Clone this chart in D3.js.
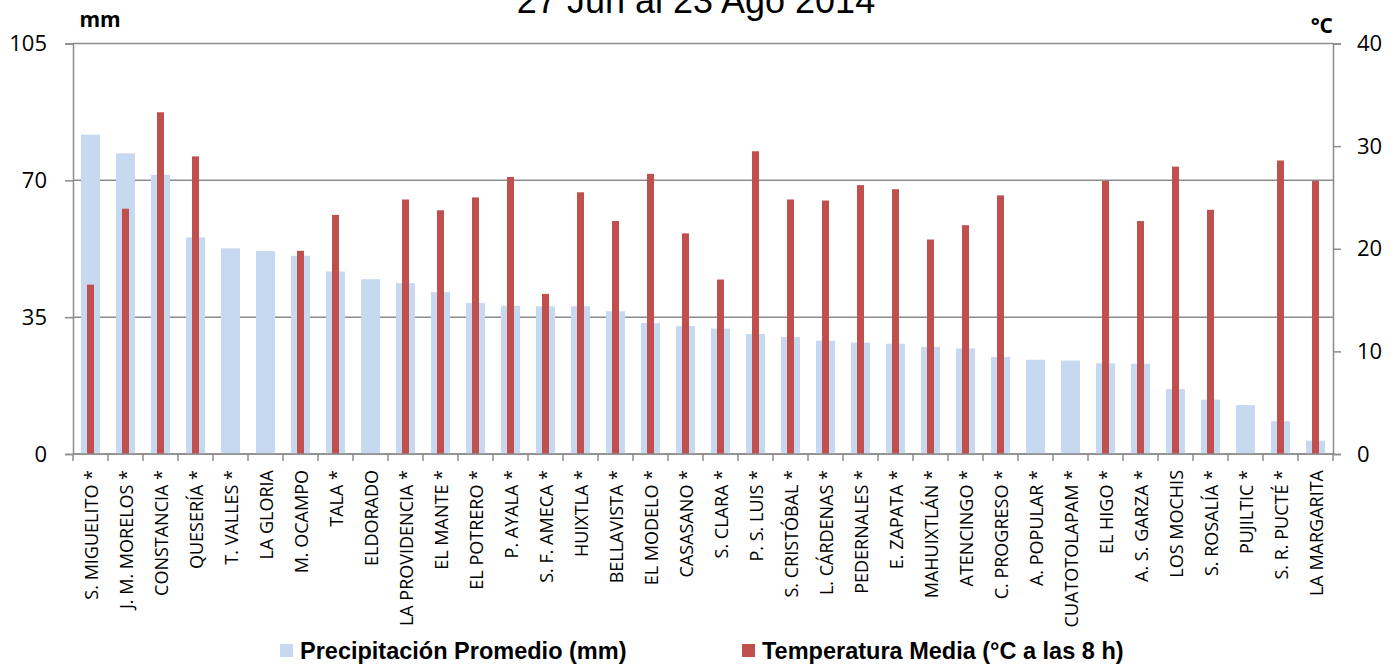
<!DOCTYPE html>
<html>
<head>
<meta charset="utf-8">
<script src="https://cdn.jsdelivr.net/npm/d3@7.9.0/dist/d3.min.js"></script>
<style>
    body { margin: 0; background: #fff; }
    svg { display: block; }
</style>
</head>
<body>
<svg id="chart" width="1398" height="669"></svg>
<script>
// stations
const stations = [
    "S. MIGUELITO *", "J. M. MORELOS *", "CONSTANCIA *", "QUESERÍA *", "T. VALLES *",
    "LA GLORIA", "M. OCAMPO", "TALA *", "ELDORADO", "LA PROVIDENCIA *", "EL MANTE *",
    "EL POTRERO *", "P. AYALA *", "S. F. AMECA *", "HUIXTLA *", "BELLAVISTA *",
    "EL MODELO *", "CASASANO *", "S. CLARA *", "P. S. LUIS *", "S. CRISTÓBAL *",
    "L. CÁRDENAS *", "PEDERNALES *", "E. ZAPATA *", "MAHUIXTLÁN *", "ATENCINGO *",
    "C. PROGRESO *", "A. POPULAR *", "CUATOTOLAPAM *", "EL HIGO *", "A. S. GARZA *",
    "LOS MOCHIS", "S. ROSALÍA *", "PUJILTIC *", "S. R. PUCTÉ *", "LA MARGARITA"
];

// average rainfall (mm)
const precipitation = [
    81.7, 76.9, 71.4, 55.4, 52.6, 51.9, 50.7, 46.7, 44.7, 43.7, 41.4,
    38.6, 37.9, 37.8, 37.8, 36.5, 33.5, 32.7, 32.1, 30.7, 29.9,
    29.0, 28.5, 28.2, 27.4, 27.0, 24.8, 24.1, 23.9, 23.2, 23.1,
    16.6, 13.9, 12.5, 8.4, 3.4
];

// mean temperature at 8 h (°C), null where there is no reading
const temperature = [
    16.5, 23.9, 33.3, 29.0, null, null, 19.8, 23.3, null, 24.8, 23.75,
    25.0, 27.0, 15.6, 25.5, 22.7, 27.3, 21.5, 17.0, 29.5, 24.8,
    24.7, 26.2, 25.8, 20.9, 22.3, 25.2, null, null, 26.6, 22.7,
    28.0, 23.8, null, 28.6, 26.6
];

const mmTicks = [0, 35, 70, 105];
const tempTicks = [0, 10, 20, 30, 40];

const blue = "#c6d9f1";
const red = "#c0504d";
const axisGray = "#8c8c8c";

const margin = { top: 43.5, right: 65, bottom: 215, left: 73 };
const width = 1398;
const height = 669;
const plotBottom = height - margin.bottom;

const svg = d3.select("#chart");

// scales
const x = d3.scaleBand()
    .domain(stations)
    .range([margin.left, width - margin.right]);
const yMm = d3.scaleLinear().domain([0, 105]).range([plotBottom, margin.top]);
const yTemp = d3.scaleLinear().domain([0, 40]).range([plotBottom, margin.top]);

// title, top is cut off in the original
svg.append("text")
    .attr("x", 696).attr("y", 13)
    .attr("text-anchor", "middle")
    .attr("font-family", "Liberation Sans, Arial, sans-serif")
    .attr("font-size", 36)
    .text("27 Jun al 23 Ago 2014");

// horizontal gridlines
svg.append("g").selectAll("line")
    .data(mmTicks)
    .join("line")
    .attr("x1", margin.left).attr("x2", width - margin.right)
    .attr("y1", d => yMm(d)).attr("y2", d => yMm(d))
    .attr("stroke", axisGray).attr("stroke-width", 1.5);

// precipitation bars
const blueW = 19;
svg.append("g").selectAll("rect")
    .data(stations)
    .join("rect")
    .attr("x", d => x(d) + x.bandwidth() / 2 - blueW / 2)
    .attr("width", blueW)
    .attr("y", (d, i) => yMm(precipitation[i]))
    .attr("height", (d, i) => plotBottom - yMm(precipitation[i]))
    .attr("fill", blue);

// temperature bars
const redW = 7;
svg.append("g").selectAll("rect")
    .data(stations.filter((d, i) => temperature[i] !== null))
    .join("rect")
    .attr("x", d => x(d) + x.bandwidth() / 2 - redW / 2)
    .attr("width", redW)
    .attr("y", d => yTemp(temperature[stations.indexOf(d)]))
    .attr("height", d => plotBottom - yTemp(temperature[stations.indexOf(d)]))
    .attr("fill", red);

// left axis
const leftAxis = svg.append("g")
    .attr("transform", `translate(${margin.left},0)`)
    .call(d3.axisLeft(yMm).tickValues(mmTicks).tickSize(8).tickPadding(18));

// right axis
const rightAxis = svg.append("g")
    .attr("transform", `translate(${width - margin.right},0)`)
    .call(d3.axisRight(yTemp).tickValues(tempTicks).tickSize(8).tickPadding(16));

[leftAxis, rightAxis].forEach(g => {
    g.select(".domain").attr("stroke", axisGray).attr("stroke-width", 1.5);
    g.selectAll(".tick line").attr("stroke", axisGray).attr("stroke-width", 1.5);
    g.selectAll(".tick text")
        .attr("font-family", "Open Sans, sans-serif")
        .attr("font-size", 22)
        .attr("fill", "#000");
});

// bottom axis, ticks sit between the categories
const xAxis = svg.append("g")
    .attr("transform", `translate(0,${plotBottom})`);
xAxis.append("line")
    .attr("x1", margin.left).attr("x2", width - margin.right)
    .attr("stroke", axisGray).attr("stroke-width", 1.5);
xAxis.selectAll(".sep")
    .data(stations.concat([null]))
    .join("line")
    .attr("class", "sep")
    .attr("x1", (d, i) => margin.left + i * x.step())
    .attr("x2", (d, i) => margin.left + i * x.step())
    .attr("y1", 0).attr("y2", 7)
    .attr("stroke", axisGray).attr("stroke-width", 1.5);

// station labels, rotated
xAxis.selectAll(".lbl")
    .data(stations)
    .join("text")
    .attr("class", "lbl")
    .attr("transform", d => `translate(${x(d) + x.bandwidth() / 2 + 1},16) rotate(-90)`)
    .attr("text-anchor", "end")
    .attr("dy", "0.36em")
    .attr("font-family", "Open Sans, sans-serif")
    .attr("font-size", 18)
    .text(d => d);

// unit labels
svg.append("text")
    .attr("x", 100).attr("y", 27)
    .attr("text-anchor", "middle")
    .attr("font-family", "Open Sans, sans-serif")
    .attr("font-weight", "bold")
    .attr("font-size", 21)
    .text("mm");
svg.append("text")
    .attr("x", 1333).attr("y", 33)
    .attr("text-anchor", "end")
    .attr("font-family", "Open Sans, sans-serif")
    .attr("font-weight", "bold")
    .attr("font-size", 21)
    .text("°C");

// legend
const legendItems = [
    { label: "Precipitación Promedio (mm)", color: blue, x: 280 },
    { label: "Temperatura Media (°C a las 8 h)", color: red, x: 742 }
];
const legend = svg.append("g");
legendItems.forEach(item => {
    legend.append("rect")
        .attr("x", item.x).attr("y", 644)
        .attr("width", 13).attr("height", 13)
        .attr("fill", item.color);
    legend.append("text")
        .attr("x", item.x + 20).attr("y", 659)
        .attr("font-family", "Liberation Sans, Arial, sans-serif")
        .attr("font-weight", "bold")
        .attr("font-size", 23.5)
        .text(item.label);
});
</script>
</body>
</html>
